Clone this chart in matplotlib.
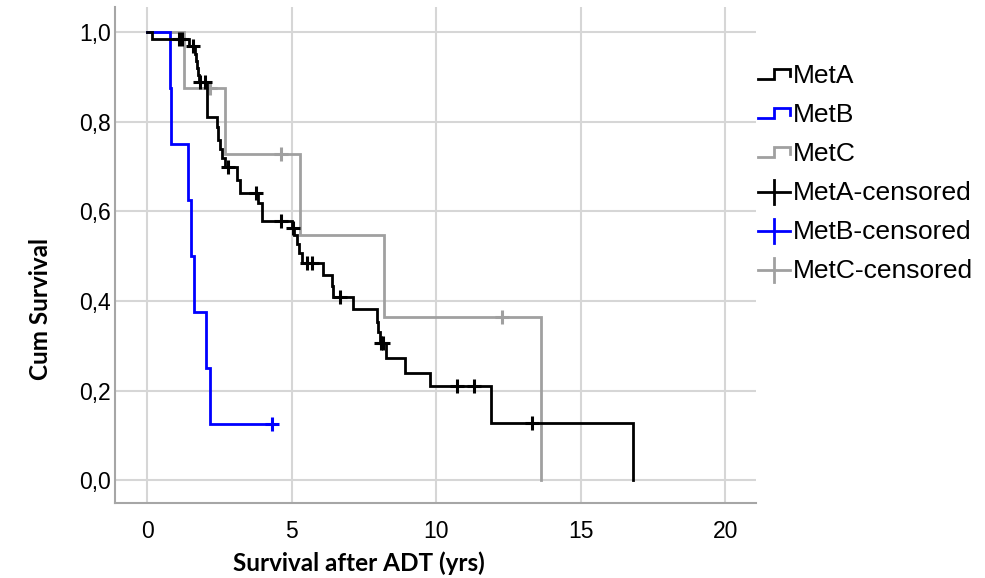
import matplotlib
matplotlib.use("Agg")
import matplotlib.pyplot as plt
import numpy as np
from matplotlib.lines import Line2D
from matplotlib.legend_handler import HandlerBase
from matplotlib.ticker import FuncFormatter

# ---- data (event times in years, survival after each step) ----
metA_times = [0.18, 1.45, 1.66, 1.69, 1.72, 1.75, 1.78, 2.09, 2.41, 2.45, 2.52, 2.58, 2.70,
              3.12, 3.20, 3.85, 3.97, 5.00, 5.10, 5.20, 5.27, 5.35, 6.10, 6.39, 6.42,
              7.14, 7.95, 8.00, 8.05, 8.27, 8.93, 9.79, 11.89, 16.83]
metA_surv = [0.984, 0.968, 0.952, 0.936, 0.920, 0.905, 0.889, 0.811, 0.789, 0.759, 0.740, 0.720, 0.700,
             0.670, 0.640, 0.618, 0.578, 0.562, 0.547, 0.528, 0.506, 0.484, 0.458, 0.433, 0.409,
             0.381, 0.353, 0.330, 0.305, 0.272, 0.240, 0.211, 0.127, 0.0]
metA_cens = [1.12, 1.20, 1.60, 1.82, 2.00, 2.81, 3.77, 4.64, 5.06, 5.54, 5.70, 6.68, 8.10, 8.16, 10.72, 11.31, 13.31]

metB_times = [0.80, 0.84, 1.43, 1.52, 1.62, 2.03, 2.16]
metB_surv = [0.875, 0.750, 0.625, 0.500, 0.375, 0.250, 0.125]
metB_cens = [4.31]

metC_times = [1.28, 2.70, 5.30, 8.20, 13.62]
metC_surv = [0.875, 0.729, 0.547, 0.365, 0.0]
metC_cens = [2.18, 4.64, 12.27]

labels = ["MetA", "MetB", "MetC", "MetA-censored", "MetB-censored", "MetC-censored"]
colors = {"MetA": "#000000", "MetB": "#0000ff", "MetC": "#a0a0a0"}

x_ticks = [0, 5, 10, 15, 20]
y_ticks = [0.0, 0.2, 0.4, 0.6, 0.8, 1.0]

W, H = 985, 578
fig = plt.figure(figsize=(W / 100, H / 100), dpi=100)
ax = fig.add_axes([115 / W, 1 - 503 / H, (756 - 115) / W, (503 - 7) / H])

def km_xy(times, surv, cens):
    xs = [0.0] + list(times)
    ys = [1.0] + list(surv)
    last = max(list(times) + list(cens))
    if last > xs[-1]:
        xs.append(last)
        ys.append(ys[-1])
    return xs, ys

def surv_at(t, times, surv):
    s = 1.0
    for ti, si in zip(times, surv):
        if ti <= t:
            s = si
    return s

lw = 2.0
series = [("MetC", metC_times, metC_surv, metC_cens),
          ("MetB", metB_times, metB_surv, metB_cens),
          ("MetA", metA_times, metA_surv, metA_cens)]
z = {"MetC": 3, "MetB": 4, "MetA": 5}
for name, t, s, c in series:
    xs, ys = km_xy(t, s, c)
    ax.step(xs, ys, where="post", color=colors[name], lw=lw, zorder=z[name], solid_joinstyle="miter")
    cy = [surv_at(ci, t, s) for ci in c]
    ax.plot(c, cy, linestyle="none", marker="+", markersize=10, markeredgewidth=2.2,
            color=colors[name], zorder=z[name] + 0.5)

ax.set_xlim(-1.11, 21.07)
ax.set_ylim(-0.051, 1.056)
ax.set_xticks(x_ticks)
ax.set_yticks(y_ticks)
ax.yaxis.set_major_formatter(FuncFormatter(lambda v, p: f"{v:.1f}".replace(".", ",")))
ax.grid(True, color="#d6d6d6", lw=1.5)
ax.set_axisbelow(True)
for side in ["top", "right"]:
    ax.spines[side].set_visible(False)
for side in ["left", "bottom"]:
    ax.spines[side].set_color("#a6a6a6")
    ax.spines[side].set_linewidth(1.5)
ax.tick_params(axis="both", length=0, labelsize=16.5, colors="#000000")
ax.tick_params(axis="x", pad=12)
ax.tick_params(axis="y", pad=3)
for lab in ax.get_xticklabels() + ax.get_yticklabels():
    lab.set_family("Liberation Sans")

ax.set_xlabel("Survival after ADT (yrs)", fontsize=17.5, fontweight="bold", family="Lato")
ax.set_ylabel("Cum Survival", fontsize=17.5, fontweight="bold", family="Lato")
ax.xaxis.set_label_coords(0.381, -0.121)
ax.yaxis.set_label_coords(-0.117, 0.391)
ax.xaxis.label.set_va("center")
ax.yaxis.label.set_va("center")


class StepHandler(HandlerBase):
    def create_artists(self, legend, orig_handle, xdescent, ydescent, width, height, fontsize, trans):
        x0, y0 = -xdescent, -ydescent
        xs = [x0, x0 + width * 0.5, x0 + width * 0.5, x0 + width, x0 + width]
        ys = [y0 + height * 0.2, y0 + height * 0.2, y0 + height * 0.75, y0 + height * 0.75, y0 + height * 0.4]
        ln = Line2D(xs, ys, color=orig_handle.get_color(), lw=orig_handle.get_linewidth(),
                    solid_joinstyle="miter")
        ln.set_transform(trans)
        return [ln]


class CrossHandler(HandlerBase):
    def create_artists(self, legend, orig_handle, xdescent, ydescent, width, height, fontsize, trans):
        x0, y0 = -xdescent, -ydescent
        c = orig_handle.get_color()
        h = Line2D([x0, x0 + width], [y0 + height * 0.45] * 2, color=c, lw=orig_handle.get_linewidth())
        v = Line2D([x0 + width * 0.5] * 2, [y0 - height * 0.2, y0 + height * 1.1], color=c,
                   lw=orig_handle.get_linewidth())
        h.set_transform(trans)
        v.set_transform(trans)
        return [h, v]


step_handles = [Line2D([], [], color=colors[n], lw=lw) for n in ["MetA", "MetB", "MetC"]]
cross_handles = [Line2D([], [], color=colors[n], lw=lw) for n in ["MetA", "MetB", "MetC"]]
hmap = {h: StepHandler() for h in step_handles}
hmap.update({h: CrossHandler() for h in cross_handles})
leg = fig.legend(step_handles + cross_handles, labels, handler_map=hmap,
                 loc="upper left", bbox_to_anchor=(758 / W, 1 - 64 / H), frameon=False,
                 borderpad=0, borderaxespad=0, handlelength=1.2, handletextpad=0.12,
                 labelspacing=0.57, prop={"family": "Liberation Sans", "size": 19})

fig.savefig("out.png", dpi=100, facecolor="white")
